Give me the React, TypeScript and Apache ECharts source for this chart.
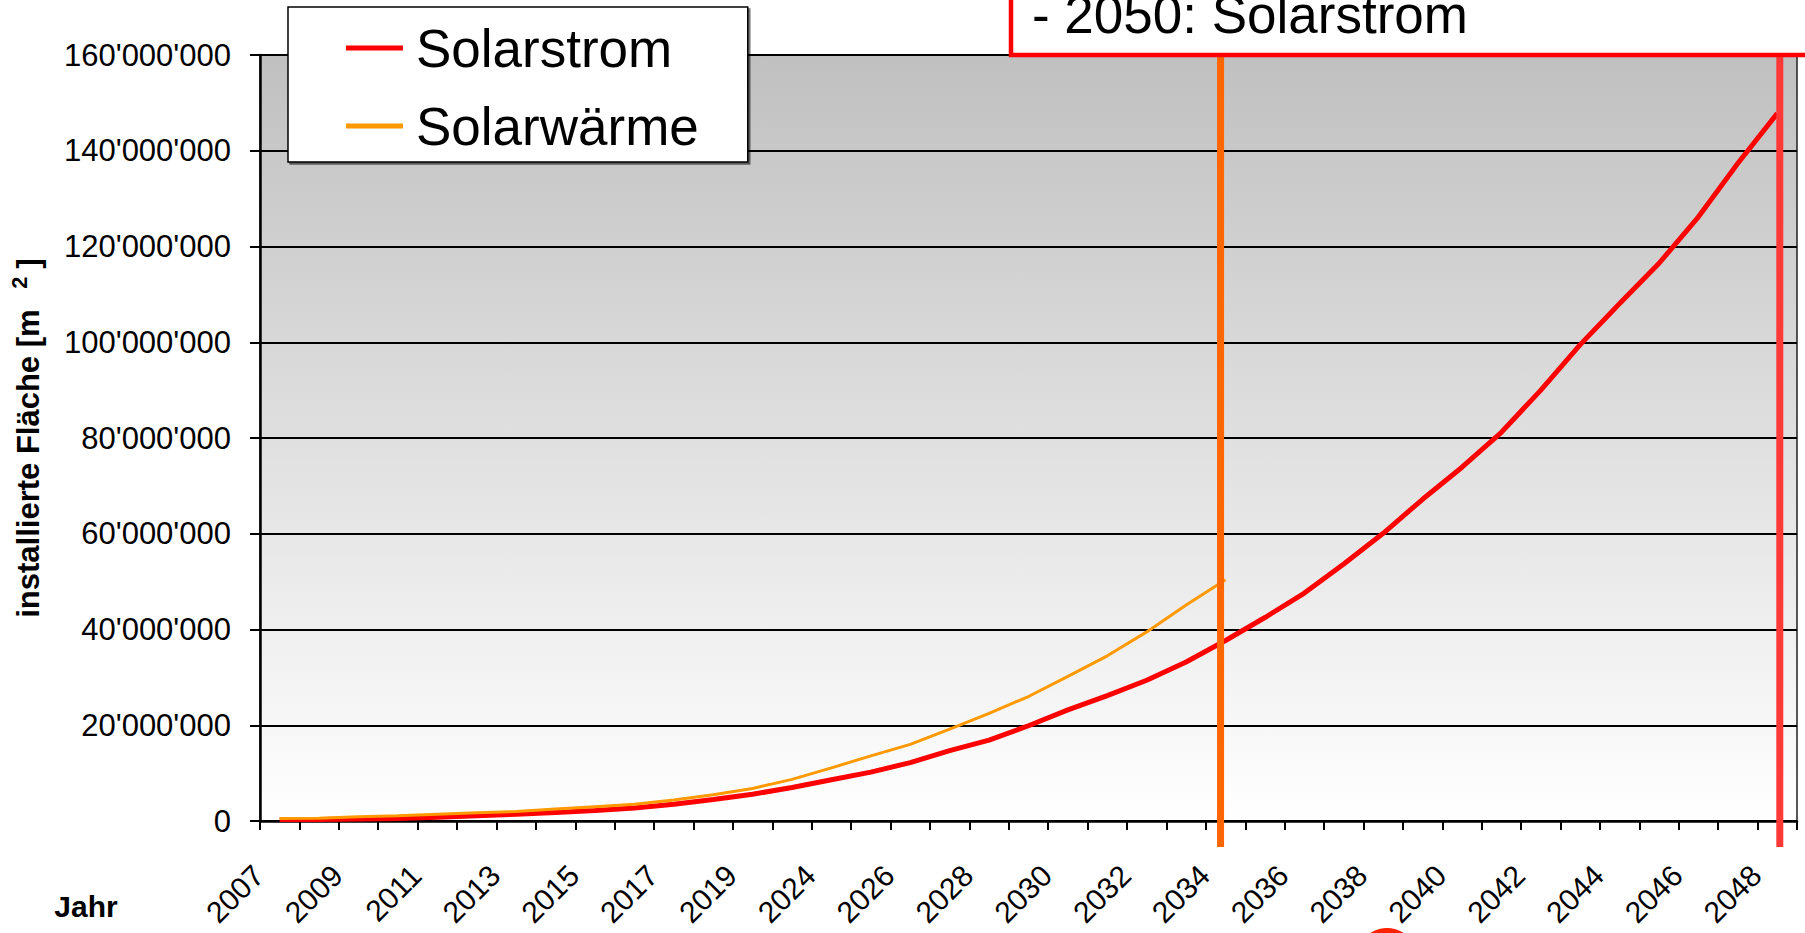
import React, { useEffect, useRef } from 'react';
import * as echarts from 'echarts';

const categories = [
  '2007', '2008', '2009', '2010', '2011', '2012', '2013', '2014', '2015', '2016',
  '2017', '2018', '2019', '2020', '2024', '2025', '2026', '2027', '2028', '2029',
  '2030', '2031', '2032', '2033', '2034', '2035', '2036', '2037', '2038', '2039',
  '2040', '2041', '2042', '2043', '2044', '2045', '2046', '2047', '2048',
];

// installierte Fläche [m²]
const solarstrom = [
  300000, 300000, 400000, 500000, 800000, 1100000, 1400000, 1800000, 2200000, 2700000,
  3500000, 4500000, 5600000, 7000000, 8600000, 10200000, 12200000, 14700000, 16900000, 19900000,
  23200000, 26200000, 29400000, 33200000, 37700000, 42500000, 47600000, 53700000, 60100000, 67200000,
  73900000, 81200000, 90000000, 99500000, 108100000, 116500000, 126200000, 137400000, 147800000,
];

const solarwaerme = [
  500000, 600000, 900000, 1100000, 1400000, 1700000, 2000000, 2500000, 3000000, 3500000,
  4400000, 5500000, 6800000, 8700000, 11100000, 13600000, 16000000, 19200000, 22500000, 26000000,
  30200000, 34500000, 39500000, 45100000, 50400000,
];

const yMin = 0;
const yMax = 160000000;
const yStep = 20000000;

const legendNames = ['Solarstrom', 'Solarwärme'];
const seriesColors = ['#ff0000', '#ff9900'];
const FONT = '"Liberation Sans", Arial, sans-serif';

function fmt(v: number): string {
  return String(Math.round(v)).replace(/\B(?=(\d{3})+(?!\d))/g, "'");
}

export default function App() {
  const ref = useRef<HTMLDivElement>(null);

  useEffect(() => {
    if (!ref.current) return;
    const chart = echarts.init(ref.current, null, { renderer: 'svg' });
    chart.setOption({
      animation: false,
      grid: {
        left: 260,
        right: 8,
        top: 55,
        bottom: 112,
        show: true,
        outerBoundsMode: 'none',
        backgroundColor: new echarts.graphic.LinearGradient(0, 0, 0, 1, [
          { offset: 0, color: '#c0c0c0' },
          { offset: 1, color: '#ffffff' },
        ]),
        borderColor: '#222',
        borderWidth: 1.5,
      },
      legend: {
        orient: 'vertical',
        left: 288,
        top: 7,
        padding: [11, 49, 6, 58],
        backgroundColor: '#fff',
        borderColor: '#000',
        borderWidth: 1.5,
        shadowColor: 'rgba(0,0,0,0.55)',
        shadowOffsetX: 2,
        shadowOffsetY: 2,
        shadowBlur: 0,
        itemWidth: 57,
        itemHeight: 5,
        itemGap: 18,
        icon: 'rect',
        textStyle: { fontSize: 53, fontFamily: FONT, color: '#000', lineHeight: 60, padding: [0, 0, 0, 8] },
        data: legendNames,
      },
      xAxis: {
        type: 'category',
        data: categories,
        boundaryGap: true,
        axisLine: { lineStyle: { color: '#000', width: 2.5 } },
        axisTick: { show: true, interval: 0, length: 9, lineStyle: { color: '#000', width: 2 } },
        axisLabel: {
          interval: 1, rotate: 45, margin: 28, fontSize: 30, fontFamily: FONT, color: '#000',
          padding: [0, 30, 0, 0],
        },
        splitLine: { show: false },
      },
      yAxis: {
        type: 'value',
        min: yMin,
        max: yMax,
        interval: yStep,
        name: 'installierte Fläche [m {sup|2}]',
        nameLocation: 'middle',
        nameRotate: 90,
        nameGap: 212,
        nameTextStyle: {
          fontSize: 31, fontWeight: 'bold', fontFamily: FONT, color: '#000', lineHeight: 40,
          rich: {
            sup: {
              fontSize: 22, fontWeight: 'bold', fontFamily: FONT, color: '#000',
              verticalAlign: 'top', lineHeight: 22, padding: [0, 8, 0, 12],
            },
          },
        },
        axisLine: { show: true, lineStyle: { color: '#000', width: 2.5 } },
        axisTick: { show: true, length: 10, lineStyle: { color: '#000', width: 2 } },
        axisLabel: { margin: 29, fontSize: 31, fontFamily: FONT, color: '#000', formatter: (v: number) => fmt(v) },
        splitLine: { show: true, lineStyle: { color: '#000', width: 2 } },
      },
      series: [
        {
          name: legendNames[0],
          type: 'line',
          data: solarstrom,
          symbol: 'none',
          lineStyle: { color: seriesColors[0], width: 5 },
          itemStyle: { color: seriesColors[0] },
        },
        {
          name: legendNames[1],
          type: 'line',
          data: solarwaerme,
          symbol: 'none',
          lineStyle: { color: seriesColors[1], width: 3 },
          itemStyle: { color: seriesColors[1] },
        },
      ],
    });

    const x34 = chart.convertToPixel({ xAxisIndex: 0 }, '2034') as number;
    const x48 = chart.convertToPixel({ xAxisIndex: 0 }, '2048') as number;

    chart.setOption({
      graphic: [
        {
          type: 'line', z: 50,
          shape: { x1: x34 - 5, y1: 55, x2: x34 - 5, y2: 847 },
          style: { stroke: '#ff6600', lineWidth: 7 },
        },
        {
          type: 'line', z: 50,
          shape: { x1: x48 + 2.5, y1: 55, x2: x48 + 2.5, y2: 847 },
          style: { stroke: '#ff3838', lineWidth: 7 },
        },
        {
          type: 'rect', z: 100,
          shape: { x: 1011, y: -50, width: 900, height: 105 },
          style: { fill: '#fff', stroke: '#ff0000', lineWidth: 4.5 },
        },
        {
          type: 'text', z: 101, x: 1032, y: 14,
          style: { text: '- 2050: Solarstrom', fontSize: 53, fontFamily: FONT, fill: '#000', verticalAlign: 'middle' },
        },
        {
          type: 'text', x: 86, y: 906,
          style: { text: 'Jahr', fontSize: 30, fontWeight: 'bold', fontFamily: FONT, fill: '#000', align: 'center', verticalAlign: 'middle' },
        },
        {
          type: 'circle',
          shape: { cx: 1387, cy: 958, r: 30 },
          style: { fill: '#ff2200' },
        },
      ],
    });

    return () => chart.dispose();
  }, []);

  return (
    <div
      ref={ref}
      style={{ position: 'fixed', left: 0, top: 0, width: 1805, height: 933, background: '#fff' }}
    />
  );
}
